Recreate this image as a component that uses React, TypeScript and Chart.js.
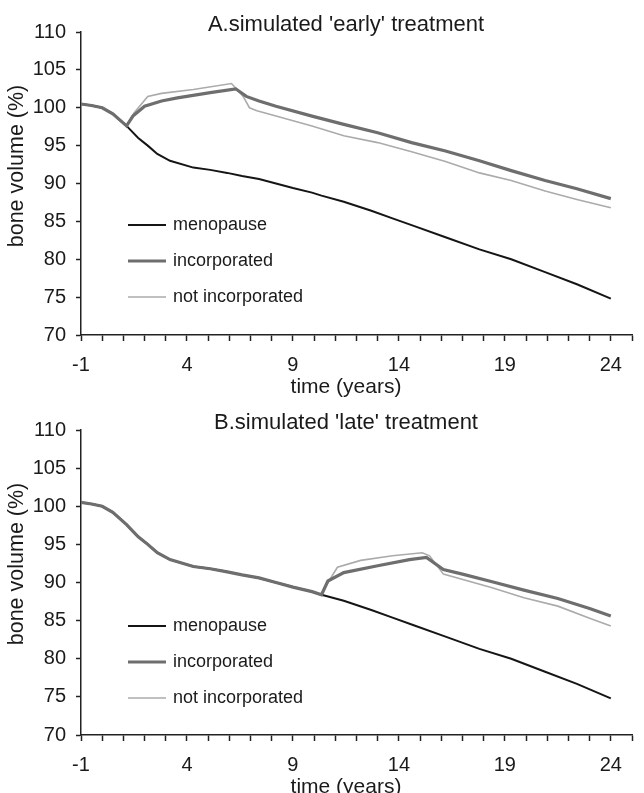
import React, { useEffect, useRef } from "react";
import { Chart, registerables } from "chart.js";

Chart.register(...registerables);

// ---------- data ----------
const yTickValues = [70, 75, 80, 85, 90, 95, 100, 105, 110];
const xTickLabels = [-1, 4, 9, 14, 19, 24];
const seriesNames = ["menopause", "incorporated", "not incorporated"];
const panelTitles = ["A.simulated 'early' treatment", "B.simulated 'late' treatment"];
const xAxisTitle = "time (years)";
const yAxisTitle = "bone volume (%)";

// untreated (menopause) curve – same in both panels
const menoYears = [-1, -0.5, 0, 0.5, 1.15, 1.7, 2.15, 2.6, 3.2, 4.3, 5.1, 5.9, 6.6, 7.4, 8.2, 9.0, 9.9, 10.35, 11.4, 12.7, 13.7, 14.7, 16.2, 17.8, 19.3, 20.9, 22.4, 24];
const menoValues = [100.5, 100.3, 100.0, 99.2, 97.6, 96.0, 95.0, 93.9, 93.0, 92.1, 91.8, 91.4, 91.0, 90.6, 90.0, 89.4, 88.8, 88.4, 87.6, 86.4, 85.4, 84.4, 82.9, 81.3, 80.0, 78.3, 76.7, 74.8];

// A: early treatment
const aIncYears = [-1, -0.5, 0, 0.5, 1.15, 1.45, 2.0, 2.8, 3.55, 5.1, 6.3, 6.8, 7.4, 8.2, 9.9, 11.4, 13.0, 14.6, 16.2, 17.8, 19.3, 20.9, 22.4, 24];
const aIncValues = [100.5, 100.3, 100.0, 99.2, 97.6, 98.9, 100.2, 100.9, 101.3, 102.0, 102.5, 101.5, 100.9, 100.2, 98.9, 97.8, 96.7, 95.4, 94.3, 93.0, 91.7, 90.4, 89.3, 88.0];
const aNotYears = [-1, -0.5, 0, 0.5, 1.15, 1.5, 2.15, 2.8, 4.3, 6.1, 6.3, 6.65, 6.95, 7.3, 8.2, 9.9, 11.4, 13.0, 14.6, 16.2, 17.8, 19.3, 20.9, 22.4, 24];
const aNotValues = [100.5, 100.3, 100.0, 99.2, 97.6, 99.3, 101.5, 101.9, 102.4, 103.2, 102.6, 101.5, 100.0, 99.6, 98.9, 97.6, 96.3, 95.4, 94.2, 92.9, 91.4, 90.4, 89.0, 87.9, 86.8];

// B: late treatment
const bIncYears = [-1, -0.5, 0, 0.5, 1.15, 1.7, 2.15, 2.6, 3.2, 4.3, 5.1, 5.9, 6.6, 7.4, 8.2, 9.0, 9.9, 10.35, 10.65, 11.4, 13.0, 14.5, 15.3, 16.1, 17.0, 18.4, 19.9, 21.5, 23.0, 24];
const bIncValues = [100.5, 100.3, 100.0, 99.2, 97.6, 96.0, 95.0, 93.9, 93.0, 92.1, 91.8, 91.4, 91.0, 90.6, 90.0, 89.4, 88.8, 88.4, 90.2, 91.3, 92.2, 93.0, 93.3, 91.7, 91.1, 90.1, 89.0, 87.9, 86.6, 85.6];
const bNotYears = [-1, -0.5, 0, 0.5, 1.15, 1.7, 2.15, 2.6, 3.2, 4.3, 5.1, 5.9, 6.6, 7.4, 8.2, 9.0, 9.9, 10.35, 10.5, 11.1, 12.2, 13.7, 15.1, 15.45, 16.1, 18.4, 19.9, 21.5, 23.0, 24];
const bNotValues = [100.5, 100.3, 100.0, 99.2, 97.6, 96.0, 95.0, 93.9, 93.0, 92.1, 91.8, 91.4, 91.0, 90.6, 90.0, 89.4, 88.8, 88.4, 89.3, 92.0, 92.9, 93.5, 93.9, 93.5, 91.1, 89.3, 88.0, 86.9, 85.3, 84.3];

// ---------- styles ----------
const FONT = "'Liberation Sans', Arial, Helvetica, sans-serif";
const TEXT = "#1a1a1a";
const AXIS = "#222222";
const COLORS = ["#151515", "#6e6e6e", "#ababab"];
const WIDTHS = [2, 3.2, 1.6];

type PanelProps = {
  title: string;
  incX: number[];
  incY: number[];
  notX: number[];
  notY: number[];
  top: number;
  height: number;
  xAxisHeight: number;
  legendOffsets: number[];
};

function Panel(p: PanelProps) {
  const ref = useRef<HTMLCanvasElement | null>(null);

  useEffect(() => {
    if (!ref.current) return;
    const pts = (xs: number[], ys: number[]) => xs.map((x, i) => ({ x, y: ys[i] }));

    const overlay = {
      id: "overlay",
      afterDraw(chart: any) {
        const { ctx, chartArea } = chart;
        ctx.save();
        ctx.fillStyle = TEXT;
        ctx.textAlign = "center";
        ctx.textBaseline = "alphabetic";
        ctx.font = `22px ${FONT}`;
        ctx.fillText(p.title, 346, chartArea.top - 1);
        ctx.font = `21px ${FONT}`;
        ctx.fillText(xAxisTitle, 346, chartArea.bottom + 58);
        ctx.save();
        ctx.translate(17, chartArea.top + 134);
        ctx.rotate(-Math.PI / 2);
        ctx.textBaseline = "middle";
        ctx.font = `21.5px ${FONT}`;
        ctx.fillText(yAxisTitle, 0, 0);
        ctx.restore();
        // legend
        ctx.font = `18px ${FONT}`;
        ctx.textAlign = "left";
        ctx.textBaseline = "middle";
        seriesNames.forEach((name, i) => {
          const y = chartArea.top + p.legendOffsets[i];
          ctx.strokeStyle = COLORS[i];
          ctx.lineWidth = WIDTHS[i];
          ctx.beginPath();
          ctx.moveTo(128, y);
          ctx.lineTo(166, y);
          ctx.stroke();
          ctx.fillStyle = TEXT;
          ctx.fillText(name, 173, y);
        });
        ctx.restore();
      },
    };

    const chart = new Chart(ref.current, {
      type: "line",
      data: {
        datasets: [
          {
            label: seriesNames[1],
            data: pts(p.incX, p.incY),
            borderColor: COLORS[1],
            borderWidth: WIDTHS[1],
            pointRadius: 0,
            tension: 0,
            order: 0,
          },
          {
            label: seriesNames[2],
            data: pts(p.notX, p.notY),
            borderColor: COLORS[2],
            borderWidth: WIDTHS[2],
            pointRadius: 0,
            tension: 0,
            order: 1,
          },
          {
            label: seriesNames[0],
            data: pts(menoYears, menoValues),
            borderColor: COLORS[0],
            borderWidth: WIDTHS[0],
            pointRadius: 0,
            tension: 0,
            order: 2,
          },
        ],
      },
      options: {
        animation: false,
        responsive: false,
        maintainAspectRatio: false,
        layout: { padding: { top: 32, right: 2, left: 0, bottom: 0 } },
        plugins: {
          legend: { display: false },
          title: { display: false },
          tooltip: { enabled: false },
        },
        scales: {
          x: {
            type: "linear",
            min: -1,
            max: 25,
            afterBuildTicks: (s: any) => {
              const t = [];
              for (let v = -1; v <= 25; v++) t.push({ value: v });
              s.ticks = t;
            },
            afterFit: (s: any) => {
              s.height = p.xAxisHeight;
            },
            ticks: {
              autoSkip: false,
              maxRotation: 0,
              padding: 12,
              color: TEXT,
              font: { family: FONT, size: 20 },
              callback: (v: any) => (xTickLabels.includes(Number(v)) ? String(v) : ""),
            },
            grid: {
              drawOnChartArea: false,
              drawTicks: true,
              tickLength: 6,
              tickColor: AXIS,
              tickWidth: 1.5,
            },
            border: { color: AXIS, width: 1.5 },
          },
          y: {
            type: "linear",
            min: 70,
            max: 110,
            afterBuildTicks: (s: any) => {
              s.ticks = yTickValues.map((v) => ({ value: v }));
            },
            afterFit: (s: any) => {
              s.width = 81;
            },
            ticks: {
              padding: 10,
              color: TEXT,
              font: { family: FONT, size: 20 },
            },
            grid: {
              drawOnChartArea: false,
              drawTicks: true,
              tickLength: 5,
              tickColor: AXIS,
              tickWidth: 1.5,
            },
            border: { color: AXIS, width: 1.5 },
          },
        },
      },
      plugins: [overlay],
    } as any);

    return () => chart.destroy();
  }, []);

  return (
    <canvas
      ref={ref}
      width={644}
      height={p.height}
      style={{ position: "absolute", left: 0, top: p.top, width: 644, height: p.height }}
    />
  );
}

export default function App() {
  return (
    <div style={{ position: "absolute", left: 0, top: 0, width: 644, height: 793, background: "#ffffff" }}>
      <Panel
        title={panelTitles[0]}
        incX={aIncYears}
        incY={aIncValues}
        notX={aNotYears}
        notY={aNotValues}
        top={0}
        height={398}
        xAxisHeight={63}
        legendOffsets={[193, 229, 265]}
      />
      <Panel
        title={panelTitles[1]}
        incX={bIncYears}
        incY={bIncValues}
        notX={bNotYears}
        notY={bNotValues}
        top={398}
        height={395}
        xAxisHeight={58}
        legendOffsets={[196, 232, 268]}
      />
    </div>
  );
}
